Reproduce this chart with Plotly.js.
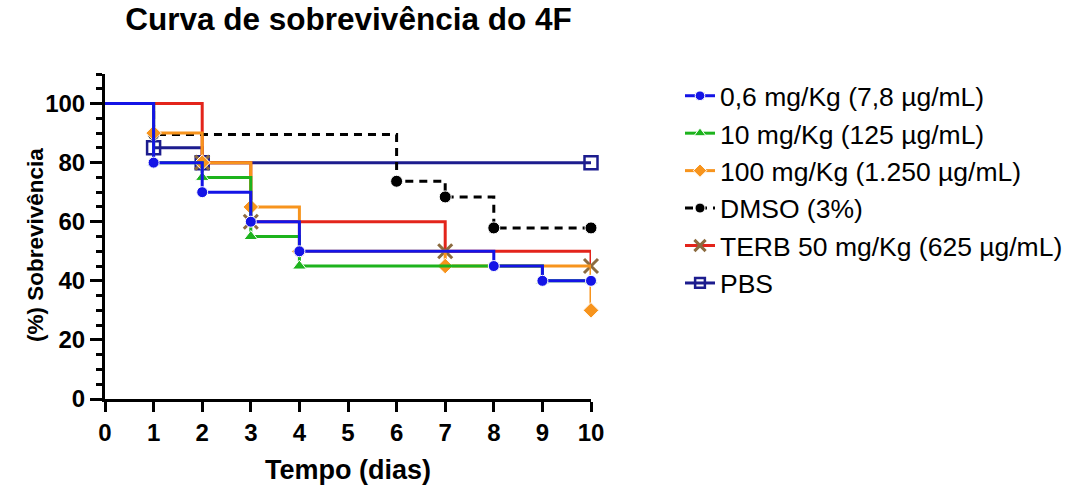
<!DOCTYPE html>
<html>
<head>
<meta charset="utf-8">
<script src="https://cdn.plot.ly/plotly-3.0.1.min.js"></script>
<style>html,body{margin:0;padding:0;background:#fff;}#chart{width:1075px;height:489px;}</style>
</head>
<body>
<div id="chart"></div>
<script>
// Legend labels (in legend order)
const seriesNames = [
  "0,6 mg/Kg (7,8 µg/mL)",
  "10 mg/Kg (125 µg/mL)",
  "100 mg/Kg (1.250 µg/mL)",
  "DMSO (3%)",
  "TERB 50 mg/Kg (625 µg/mL)",
  "PBS"
];
// Time (days) and survival (%) at each step
const tempo06 = [0, 1, 2, 3, 4, 8, 9, 10];
const sobrev06 = [100, 80, 70, 60, 50, 45, 40, 40];
const tempo10 = [0, 1, 2, 3, 4, 9, 10];
const sobrev10 = [100, 80, 75, 55, 45, 40, 40];
const tempo100 = [0, 1, 2, 3, 4, 7, 10];
const sobrev100 = [100, 90, 80, 65, 50, 45, 30];
const tempoDMSO = [0, 1, 6, 7, 8, 10];
const sobrevDMSO = [100, 89.5, 73.7, 68.4, 57.9, 57.9];
const tempoTERB = [0, 2, 3, 7, 10];
const sobrevTERB = [100, 80, 60, 50, 45];
const tempoPBS = [0, 1, 2, 10];
const sobrevPBS = [100, 85, 80, 80];
const xTicks = [0, 1, 2, 3, 4, 5, 6, 7, 8, 9, 10];
const yTicks = [0, 20, 40, 60, 80, 100];

const FONT = "Liberation Sans, Arial, sans-serif";
function sizes(xs, s) { return xs.map((v, i) => i === 0 ? 0 : s); }

function trace(name, rank, xs, ys, lineColor, dash, marker) {
  marker.opacity = 1;
  return {
    type: "scatter", mode: "lines+markers", name: name,
    x: xs, y: ys, line: {shape: "hv", color: lineColor, width: 3, dash: dash},
    marker: marker, opacity: 1, legendrank: rank, legendgroup: "g" + rank, cliponaxis: false
  };
}

// drawing order: bottom -> top
const data = [
  trace(seriesNames[5], 6, tempoPBS, sobrevPBS, "#1C1C8E", "solid",
    {symbol: "square-open", size: sizes(tempoPBS, 13), color: "#1C1C8E", line: {width: 2.5, color: "#1C1C8E"}}),
  trace(seriesNames[4], 5, tempoTERB, sobrevTERB, "#E3241B", "solid",
    {symbol: "x-thin", size: sizes(tempoTERB, 14), color: "#8C6B3F", line: {width: 3, color: "#8C6B3F"}}),
  trace(seriesNames[3], 4, tempoDMSO, sobrevDMSO, "#000000", "8px,6px",
    {symbol: "circle", size: sizes(tempoDMSO, 12), color: "#000000"}),
  trace(seriesNames[2], 3, tempo100, sobrev100, "#F7941D", "solid",
    {symbol: "diamond", size: sizes(tempo100, 12), color: "#F7941D"}),
  trace(seriesNames[1], 2, tempo10, sobrev10, "#1DB31D", "solid",
    {symbol: "triangle-up", size: sizes(tempo10, 12), color: "#1DB31D"}),
  trace(seriesNames[0], 1, tempo06, sobrev06, "#1414E6", "solid",
    {symbol: "circle", size: sizes(tempo06, 11), color: "#1414E6"})
];

const layout = {
  width: 1075, height: 489,
  margin: {l: 105, r: 484, t: 74, b: 90, autoexpand: false},
  paper_bgcolor: "#ffffff", plot_bgcolor: "#ffffff",
  font: {family: FONT, color: "#000000"},
  title: {
    text: "<b>Curva de sobrevivência do 4F</b>",
    font: {family: FONT, size: 31.5, color: "#000"},
    xref: "paper", x: 0.501, xanchor: "center",
    yref: "container", y: 0.962, yanchor: "middle"
  },
  xaxis: {
    range: [0, 10], tickvals: xTicks, ticktext: xTicks.map(String),
    showline: true, linecolor: "#000", linewidth: 3, mirror: false,
    ticks: "outside", ticklen: 10, tickwidth: 3, tickcolor: "#000",
    showgrid: false, zeroline: false, automargin: false,
    tickfont: {family: FONT, size: 24, weight: "bold"}
  },
  yaxis: {
    range: [0, 110], tickvals: yTicks, ticktext: yTicks.map(String),
    showline: true, linecolor: "#000", linewidth: 3,
    ticks: "outside", ticklen: 12, tickwidth: 3, tickcolor: "#000",
    minor: {dtick: 5, tick0: 0, ticks: "outside", ticklen: 6, tickwidth: 3, tickcolor: "#000", showgrid: false},
    showgrid: false, zeroline: false, automargin: false,
    tickfont: {family: FONT, size: 24, weight: "bold"}
  },
  annotations: [
    {text: "<b>Tempo (dias)</b>", xref: "paper", yref: "paper",
     x: 0.501, y: (399 - 470) / 325, xanchor: "center", yanchor: "middle",
     showarrow: false, font: {family: FONT, size: 27, color: "#000"}},
    {text: "<b>(%) Sobrevivência</b>", xref: "paper", yref: "paper",
     x: (35 - 105) / 486, y: (399 - 245) / 325, xanchor: "center", yanchor: "middle",
     textangle: -90, showarrow: false, font: {family: FONT, size: 22.5, color: "#000"}}
  ],
  showlegend: true,
  legend: {
    xref: "container", yref: "container",
    x: 680 / 1075, xanchor: "left", y: 1 - 72 / 489, yanchor: "top",
    font: {family: FONT, size: 26.5, color: "#000"},
    tracegroupgap: 0, bgcolor: "rgba(0,0,0,0)"
  }
};

Plotly.newPlot("chart", data, layout, {displayModeBar: false, staticPlot: true});
</script>
</body>
</html>
